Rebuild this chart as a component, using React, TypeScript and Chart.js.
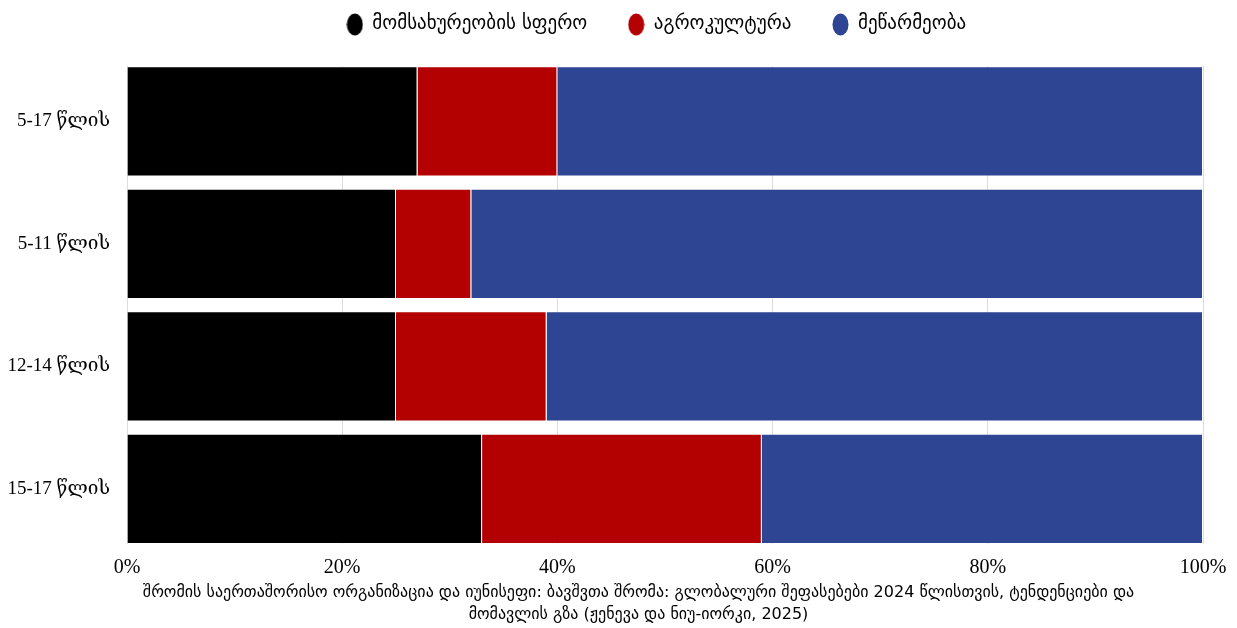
import React, { useEffect, useRef } from "react";
import { Chart, registerables } from "chart.js";

Chart.register(...registerables);

const categories = ["5-17 წლის", "5-11 წლის", "12-14 წლის", "15-17 წლის"];
const seriesNames = ["მომსახურეობის სფერო", "აგროკულტურა", "მეწარმეობა"];
const services = [27, 25, 25, 33];
const agriculture = [13, 7, 14, 26];
const industry = [60, 68, 61, 41];
const seriesColors = ["#000000", "#b30000", "#2d4592"];
const xTicks = [0, 20, 40, 60, 80, 100];
const captionLines = [
  "შრომის საერთაშორისო ორგანიზაცია და იუნისეფი: ბავშვთა შრომა: გლობალური შეფასებები 2024 წლისთვის, ტენდენციები და",
  "მომავლის გზა (ჟენევა და ნიუ-იორკი, 2025)",
];

function ellipseMarker(color: string): HTMLCanvasElement {
  const c = document.createElement("canvas");
  c.width = 17;
  c.height = 23;
  const ctx = c.getContext("2d")!;
  ctx.fillStyle = color;
  ctx.beginPath();
  ctx.ellipse(8.5, 11.5, 8, 11, 0, 0, Math.PI * 2);
  ctx.fill();
  return c;
}

const legendTweak = {
  id: "legendTweak",
  beforeInit(chart: any) {
    const lg = chart.legend;
    if (!lg) return;
    const fit = lg.fit;
    lg.fit = function () {
      fit.call(this);
      this.height = 52;
    };
    const draw = lg.draw;
    lg.draw = function (...args: any[]) {
      const t = this.top;
      const l = this.left;
      const r = this.right;
      this.top = t - 34;
      this.left = l + 51;
      this.right = r + 51;
      draw.apply(this, args);
      this.top = t;
      this.left = l;
      this.right = r;
    };
  },
};

const edgeMask = {
  id: "edgeMask",
  beforeDatasetsDraw(chart: any) {
    const { ctx, chartArea } = chart;
    const band = (chartArea.bottom - chartArea.top) / categories.length;
    const half = band * 0.05;
    ctx.save();
    ctx.fillStyle = "#ffffff";
    ctx.fillRect(chartArea.left - 1, chartArea.top - 1, chartArea.right - chartArea.left + 3, half + 1);
    ctx.fillRect(chartArea.left - 1, chartArea.bottom - half, chartArea.right - chartArea.left + 3, half + 2);
    ctx.restore();
  },
};

export default function App() {
  const ref = useRef<HTMLCanvasElement | null>(null);
  useEffect(() => {
    if (!ref.current) return;
    const values = [services, agriculture, industry];
    const markers = seriesColors.map(ellipseMarker);
    const chart = new Chart(ref.current, {
      type: "bar",
      data: {
        labels: categories,
        datasets: seriesNames.map((name, i) => ({
          label: name,
          data: values[i],
          backgroundColor: seriesColors[i],
          borderColor: "rgba(255,255,255,0.35)",
          borderWidth: 1,
          barPercentage: 1,
          categoryPercentage: 0.9,
        })),
      },
      options: {
        indexAxis: "y",
        responsive: false,
        animation: false,
        layout: { padding: { right: 26, bottom: 0, top: 0, left: 0 } },
        plugins: {
          legend: {
            position: "top",
            labels: {
              usePointStyle: true,
              boxWidth: 16,
              boxHeight: 16,
              padding: 41,
              color: "#000",
              font: { family: "'DejaVu Sans', sans-serif", size: 19 },
              generateLabels: (ch: any) =>
                ch.data.datasets.map((ds: any, i: number) => ({
                  text: ds.label,
                  fillStyle: seriesColors[i],
                  strokeStyle: seriesColors[i],
                  lineWidth: 0,
                  pointStyle: markers[i],
                  hidden: false,
                  datasetIndex: i,
                  fontColor: "#000",
                })),
            },
          },
          tooltip: { enabled: false },
        },
        scales: {
          x: {
            stacked: true,
            min: 0,
            max: 100,
            afterBuildTicks: (scale: any) => {
              scale.ticks = xTicks.map((v) => ({ value: v }));
            },
            afterFit: (scale: any) => {
              scale.paddingRight = 0;
              scale.paddingLeft = 0;
            },
            ticks: {
              callback: (v: any) => v + "%",
              color: "#000",
              font: { family: "'Liberation Serif', 'DejaVu Serif', serif", size: 20 },
              padding: 6,
            },
            grid: { color: "#dddddd", drawTicks: false },
            border: { display: false },
          },
          y: {
            stacked: true,
            afterFit: (scale: any) => {
              scale.width = 119;
            },
            ticks: {
              color: "#000",
              font: { family: "'Liberation Serif', 'DejaVu Serif', serif", size: 19 },
              padding: 17,
            },
            grid: { display: false, drawTicks: false },
            border: { display: false },
          },
        },
      },
      plugins: [legendTweak, edgeMask],
    });
    return () => chart.destroy();
  }, []);
  return (
    <div style={{ width: 1221 }}>
      <canvas ref={ref} width={1221} height={578} style={{ display: "block" }} />
      <div
        style={{
          fontFamily: "'DejaVu Sans', sans-serif",
          fontSize: 16,
          lineHeight: "22px",
          textAlign: "center",
          paddingLeft: 40,
          marginTop: -5,
          color: "#000",
        }}
      >
        {captionLines.map((l, i) => (
          <div key={i}>{l}</div>
        ))}
      </div>
    </div>
  );
}
